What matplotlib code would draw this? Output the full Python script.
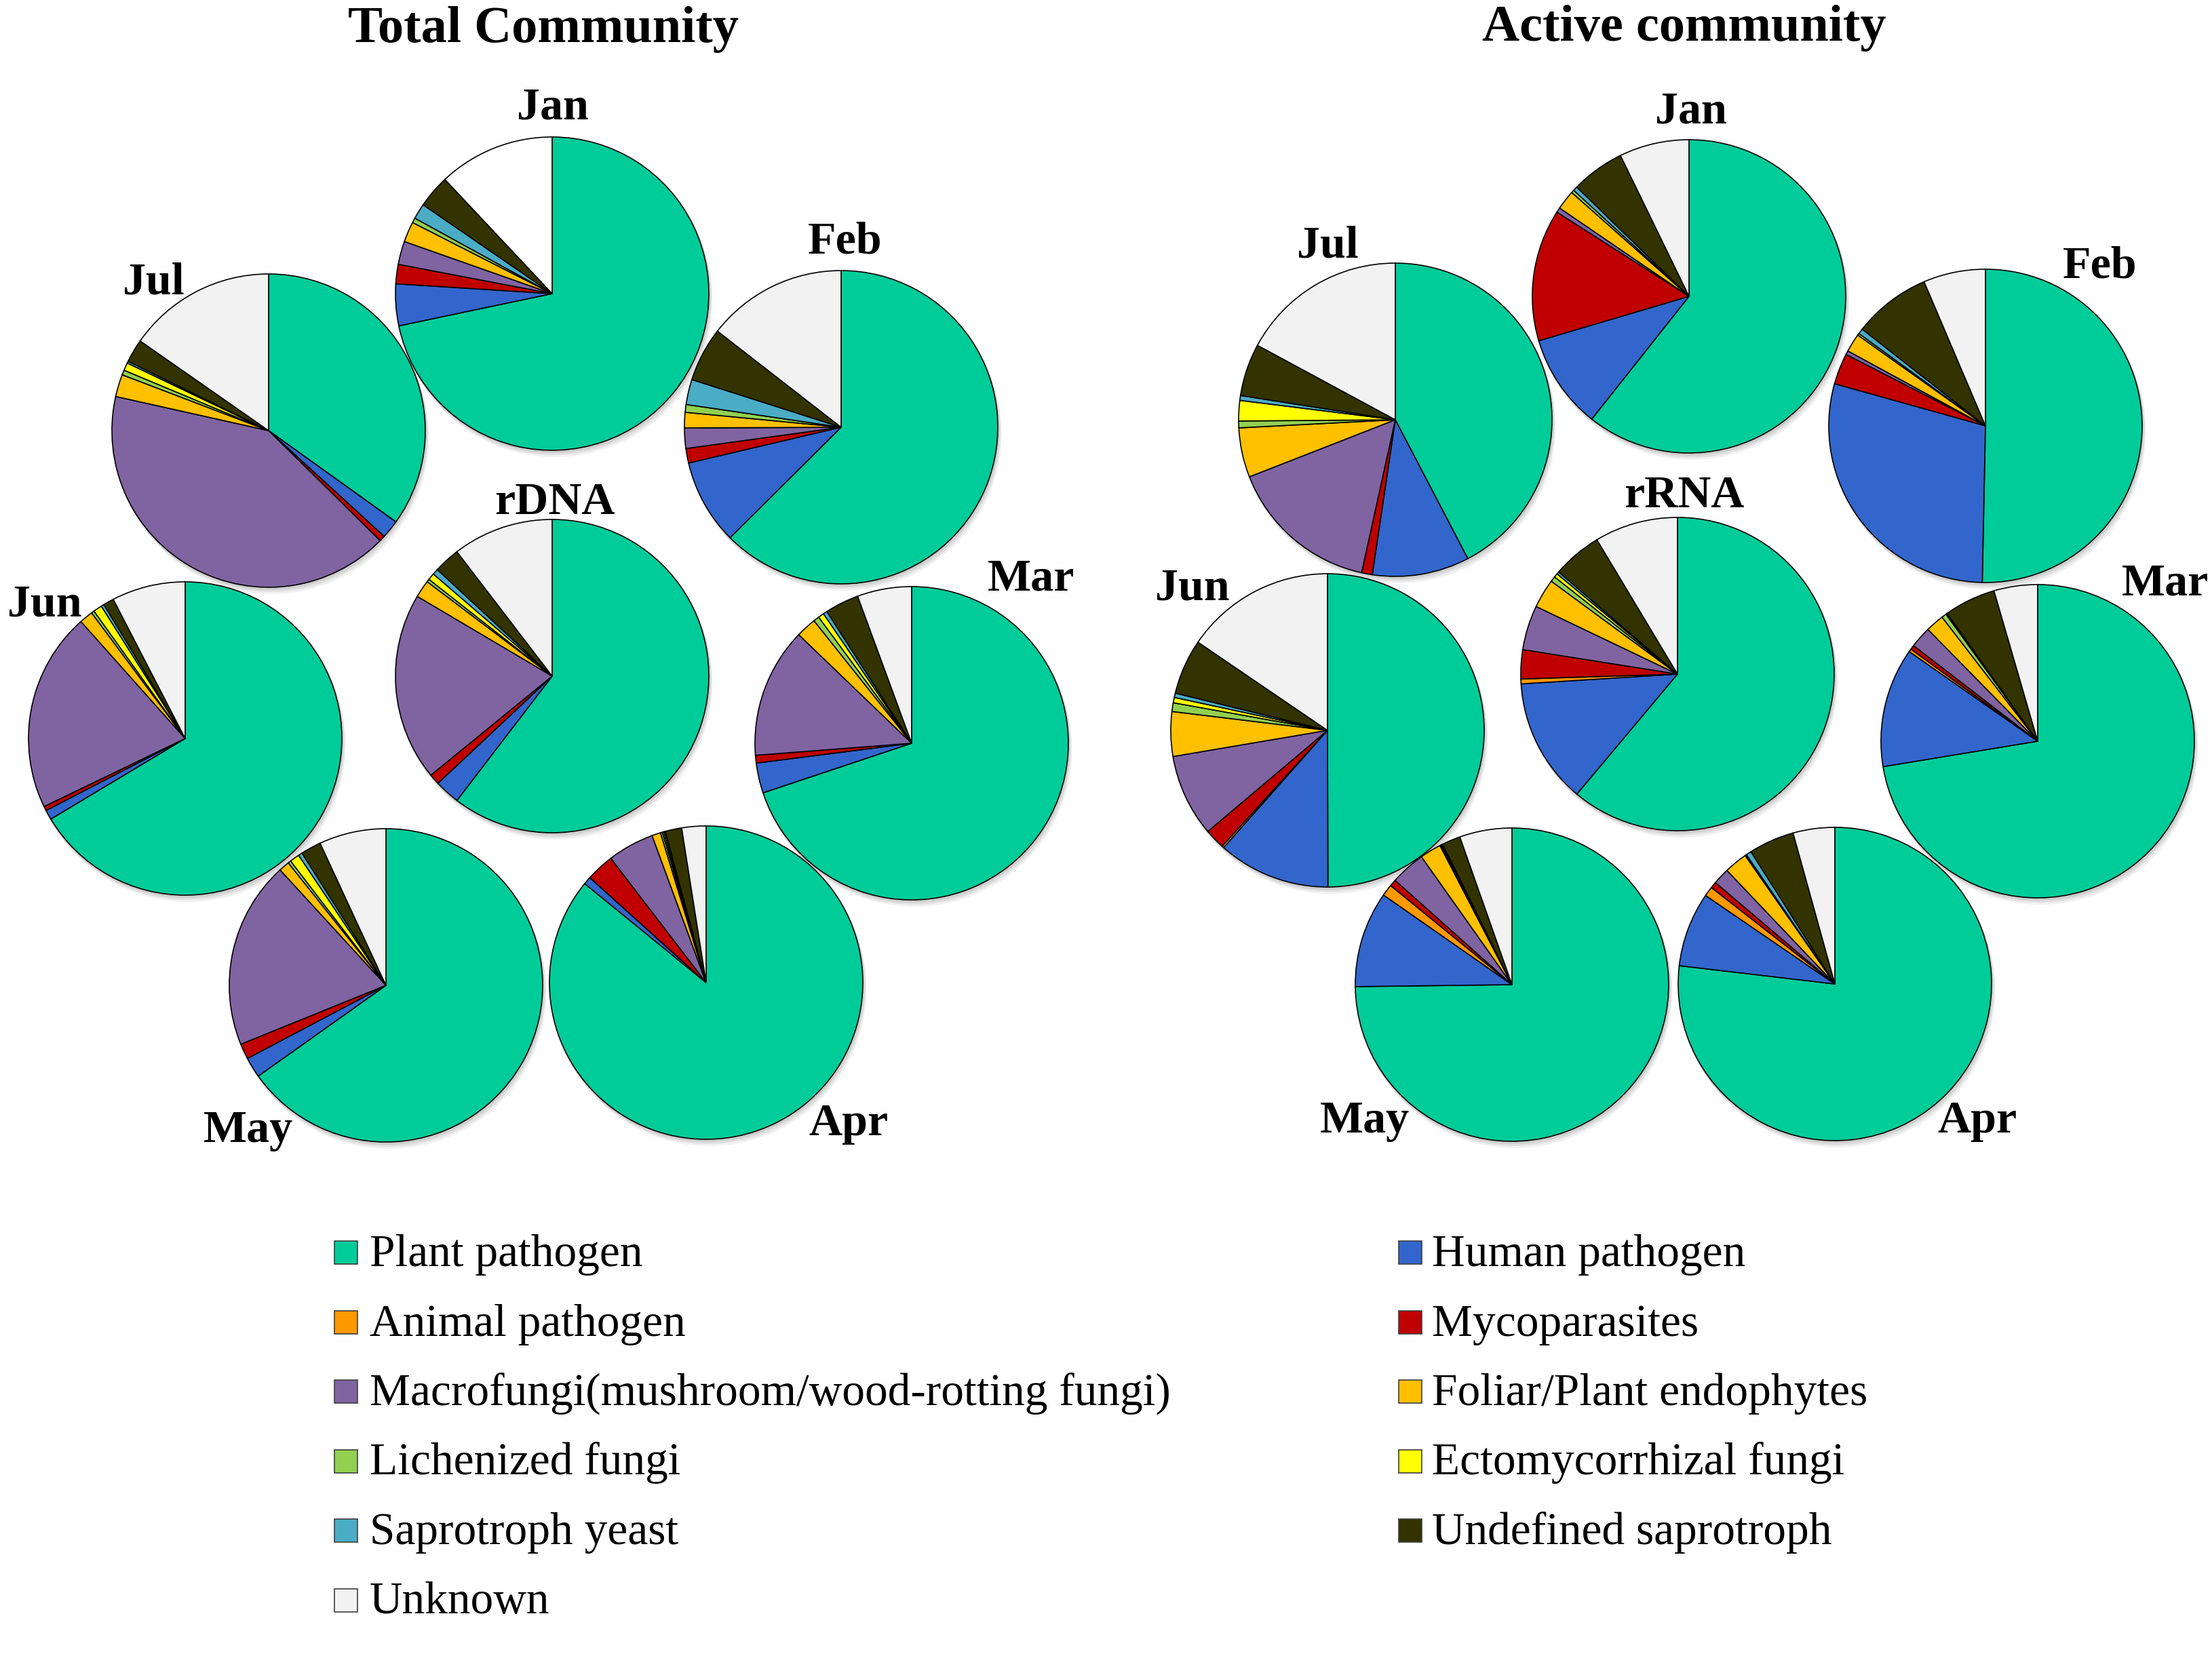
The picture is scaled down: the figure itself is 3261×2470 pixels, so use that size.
import matplotlib
matplotlib.use("Agg")
import matplotlib.pyplot as plt
from matplotlib.patches import Rectangle, Circle

# ---------------- data ----------------
categories = [
    "Plant pathogen", "Human pathogen", "Animal pathogen", "Mycoparasites",
    "Macrofungi(mushroom/wood-rotting fungi)", "Foliar/Plant endophytes",
    "Lichenized fungi", "Ectomycorrhizal fungi", "Saprotroph yeast",
    "Undefined saprotroph", "Unknown",
]
colors = ["#00CC99", "#3366CC", "#FF9900", "#C00000", "#8064A2", "#FFC000",
          "#92D050", "#FFFF00", "#4BACC6", "#333300", "#F2F2F2"]

panel_titles = ["Total Community", "Active community"]
pie_names = ["Jan", "Feb", "Mar", "Apr", "May", "Jun", "Jul", "center"]
center_labels = ["rDNA", "rRNA"]

# values (%) in category order, read clockwise from 12 o'clock
total_jan = [71.7, 4.3, 0.0, 2.0, 2.4, 2.1, 0.5, 0.0, 1.6, 3.4, 12.0]
total_feb = [62.6, 8.8, 0.0, 1.5, 2.1, 1.6, 0.8, 0.0, 2.6, 5.6, 14.5]
total_mar = [69.8, 3.1, 0.0, 0.8, 13.4, 2.1, 0.6, 0.6, 0.4, 3.5, 5.6]
total_apr = [85.8, 0.8, 0.0, 2.9, 4.8, 0.9, 0.2, 0.15, 0.15, 1.7, 2.5]
total_may = [65.1, 2.1, 0.0, 1.6, 19.3, 1.1, 0.3, 1.0, 0.4, 2.1, 6.9]
total_jun = [66.5, 1.0, 0.0, 0.45, 20.6, 1.4, 0.3, 0.9, 0.3, 1.1, 7.6]
total_jul = [34.9, 1.9, 0.0, 0.6, 41.1, 2.3, 0.5, 0.8, 0.2, 2.4, 15.3]
total_rdna = [60.4, 2.6, 0.0, 1.1, 19.4, 1.8, 0.3, 0.7, 0.6, 2.7, 10.4]

active_jan = [60.6, 9.75, 0.0, 13.6, 0.5, 2.0, 0.3, 0.0, 0.45, 5.5, 7.2]
active_feb = [50.3, 29.0, 0.0, 3.2, 0.4, 1.9, 0.2, 0.0, 0.55, 8.0, 6.4]
active_mar = [72.4, 12.3, 0.3, 0.45, 2.2, 1.9, 0.5, 0.1, 0.05, 5.3, 4.5]
active_apr = [76.9, 7.7, 1.0, 0.65, 1.7, 2.4, 0.1, 0.05, 0.55, 4.7, 4.3]
active_may = [74.8, 9.9, 1.2, 0.7, 3.6, 2.2, 0.1, 0.1, 0.1, 1.9, 5.4]
active_jun = [50.0, 11.6, 0.2, 2.1, 8.5, 4.6, 0.9, 0.55, 0.45, 5.7, 15.5]
active_jul = [42.3, 10.0, 0.0, 1.1, 15.6, 5.1, 0.7, 2.1, 0.5, 5.4, 17.1]
active_rrna = [61.1, 12.9, 0.5, 3.0, 4.6, 3.0, 0.55, 0.4, 0.25, 5.1, 8.6]

total_data = [total_jan, total_feb, total_mar, total_apr, total_may,
              total_jun, total_jul, total_rdna]
active_data = [active_jan, active_feb, active_mar, active_apr, active_may,
               active_jun, active_jul, active_rrna]

# ---------------- layout (pixels, y measured from top) ----------------
W, H = 3262, 2470
R = 231
total_centers = [(814, 433), (1240, 630), (1344, 1096), (1041, 1449),
                 (569, 1453), (273, 1089), (396, 635), (814, 997)]
active_centers = [(2490, 437), (2927, 628), (3004, 1093), (2705, 1451),
                  (2229, 1452), (1957, 1077), (2057, 619), (2473, 994)]
total_label_pos = [(815, 175), (1246, 374), (1520, 871), (1251, 1674),
                   (366, 1684), (66, 909), (226, 434), (818, 758)]
active_label_pos = [(2493, 181), (3096, 410), (3192, 878), (2915, 1670),
                    (2012, 1670), (1758, 885), (1957, 379), (2483, 748)]
title_pos = [(801, 62), (2483, 60)]
unknown_override = {(0, 0): "#FFFFFF"}  # Total community, Jan: white slice

SERIF = ["Liberation Serif", "DejaVu Serif"]

fig = plt.figure(figsize=(W / 100, H / 100), dpi=100)
ax = fig.add_axes([0, 0, 1, 1])


def Y(y):
    return H - y


for p, (data, centers, labels) in enumerate(
        [(total_data, total_centers, total_label_pos),
         (active_data, active_centers, active_label_pos)]):
    for i, (vals, (cx, cy), (lx, ly)) in enumerate(zip(data, centers, labels)):
        cols = list(colors)
        if (p, i) in unknown_override:
            cols[-1] = unknown_override[(p, i)]
        v = [a for a in vals if a > 0]
        c = [col for a, col in zip(vals, cols) if a > 0]
        # soft drop shadow
        for k, (off, al) in enumerate([(9, 0.10), (6, 0.14), (3, 0.18)]):
            ax.add_patch(Circle((cx + off * 0.5, Y(cy) - off), R + 1,
                                facecolor="#7f7f7f", edgecolor="none",
                                alpha=al, zorder=1))
        wedges, _ = ax.pie(v, colors=c, startangle=90, counterclock=False,
                           center=(cx, Y(cy)), radius=R, frame=True,
                           wedgeprops=dict(edgecolor="black", linewidth=1.2))
        for w in wedges:
            w.set_zorder(2)
        name = pie_names[i] if pie_names[i] != "center" else center_labels[p]
        ax.text(lx, Y(ly), name, ha="center", va="baseline", fontsize=49,
                fontweight="bold", family=SERIF, zorder=5)
    tx, ty = title_pos[p]
    ax.text(tx, Y(ty), panel_titles[p], ha="center", va="baseline",
            fontsize=55, fontweight="bold", family=SERIF, zorder=5)

# ---------------- legend ----------------
col_sq_x = [493, 2062]
col_tx_x = [545, 2111]
row_base = [1867, 1969.5, 2072, 2174.5, 2277, 2379.5]
sq = 34
for k, (name, col) in enumerate(zip(categories, colors)):
    c, r = k % 2, k // 2
    if k == 10:
        c, r = 0, 5
    base = row_base[r]
    ax.add_patch(Rectangle((col_sq_x[c], Y(base - 3)), sq, sq,
                           facecolor=col, edgecolor="#404040", linewidth=1.2,
                           zorder=5))
    ax.text(col_tx_x[c], Y(base), name, ha="left", va="baseline",
            fontsize=48.5, family=SERIF, zorder=5)

ax.set_xlim(0, W)
ax.set_ylim(0, H)
ax.set_aspect("equal")
ax.axis("off")
fig.savefig("out.png", dpi=100, facecolor="white")
